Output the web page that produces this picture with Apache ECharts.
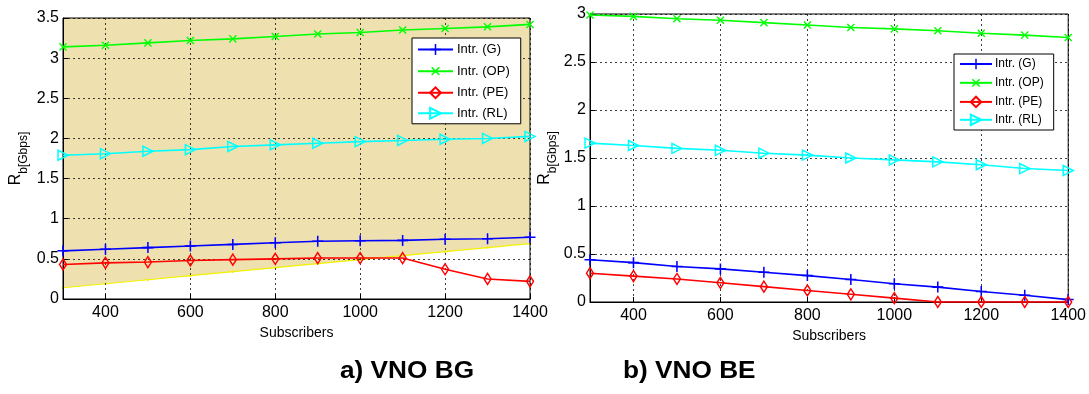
<!DOCTYPE html>
<html>
<head>
<meta charset="utf-8">
<script src="https://cdn.jsdelivr.net/npm/echarts@6/dist/echarts.min.js"></script>
<style>
  html, body { margin: 0; padding: 0; background: #fff; }
  #chart { width: 1089px; height: 394px; }
</style>
</head>
<body>
<div id="chart"></div>
<script>
// ---- data ----
const subscribers = ['300','400','500','600','700','800','900','1000','1100','1200','1300','1400'];
const seriesNames = ['Intr. (G)', 'Intr. (OP)', 'Intr. (PE)', 'Intr. (RL)'];

// a) VNO BG
const bgG  = [0.60, 0.62, 0.64, 0.66, 0.68, 0.70, 0.72, 0.725, 0.73, 0.745, 0.75, 0.77];
const bgOP = [3.14, 3.16, 3.19, 3.22, 3.24, 3.27, 3.30, 3.32, 3.35, 3.37, 3.39, 3.42];
const bgPE = [0.43, 0.45, 0.46, 0.48, 0.49, 0.50, 0.51, 0.51, 0.51, 0.37, 0.25, 0.22];
const bgRL = [1.79, 1.81, 1.84, 1.86, 1.90, 1.92, 1.94, 1.96, 1.975, 1.99, 2.00, 2.025];
const bgLimit = [0.14, 0.19, 0.24, 0.29, 0.34, 0.39, 0.44, 0.49, 0.54, 0.59, 0.64, 0.69];

// b) VNO BE
const beG  = [0.44, 0.41, 0.37, 0.345, 0.31, 0.275, 0.235, 0.19, 0.155, 0.11, 0.07, 0.025];
const beOP = [2.99, 2.975, 2.95, 2.935, 2.91, 2.885, 2.86, 2.845, 2.825, 2.80, 2.78, 2.755];
const bePE = [0.30, 0.27, 0.24, 0.20, 0.16, 0.12, 0.08, 0.04, 0, 0, 0, 0];
const beRL = [1.655, 1.63, 1.60, 1.58, 1.55, 1.53, 1.50, 1.48, 1.46, 1.43, 1.39, 1.37];

const captions = ['a) VNO BG', 'b) VNO BE'];
const xName = 'Subscribers';

// ---- styling ----
const FONT = 'Liberation Sans, Arial, sans-serif';
const colors = ['#0000ff', '#00ff00', '#ff0000', '#00ffff'];
const plusPath = 'path://M4.3,0H5.7V4.3H10V5.7H5.7V10H4.3V5.7H0V4.3H4.3Z';
const symbolDefs = [
  { symbol: plusPath, symbolSize: 11, symbolRotate: 0, hollow: false },
  { symbol: plusPath, symbolSize: 10, symbolRotate: 45, hollow: false },
  { symbol: 'diamond', symbolSize: [7, 11], symbolRotate: 0, hollow: true },
  { symbol: 'triangle', symbolSize: [10, 10], symbolRotate: -90, hollow: true }
];

const showEven = (idx, val) => Number(val) % 200 === 0;

function makeX(gridIndex, nameGap) {
  return {
    type: 'category', gridIndex, data: subscribers, boundaryGap: false,
    name: xName, nameLocation: 'middle', nameGap,
    nameTextStyle: { fontFamily: FONT, fontSize: 14, color: '#000' },
    axisLine: { show: true, lineStyle: { color: '#000', width: 1 } },
    axisTick: { show: true, inside: true, length: 5, interval: showEven, lineStyle: { color: '#000' } },
    axisLabel: { interval: showEven, fontFamily: FONT, fontSize: 16, color: '#000', margin: 6 },
    splitLine: { show: true, interval: showEven, lineStyle: { color: '#000', type: [2, 3], width: 1, opacity: 0.75 } }
  };
}
function makeY(gridIndex, max, nameGap) {
  return {
    type: 'value', gridIndex, min: 0, max, interval: 0.5,
    name: '{r|R}{s|b[Gbps]}', nameLocation: 'middle', nameGap,
    nameTextStyle: {
      fontFamily: FONT, color: '#000',
      rich: {
        r: { fontFamily: FONT, fontSize: 16, color: '#000', lineHeight: 22, verticalAlign: 'top' },
        s: { fontFamily: FONT, fontSize: 12, color: '#000', lineHeight: 22, verticalAlign: 'bottom', padding: [5, 0, 0, 0] }
      }
    },
    axisLine: { show: true, lineStyle: { color: '#000', width: 1 } },
    axisTick: { show: true, inside: true, length: 5, lineStyle: { color: '#000' } },
    axisLabel: { fontFamily: FONT, fontSize: 16, color: '#000', margin: 4 },
    splitLine: { show: true, lineStyle: { color: '#000', type: [2, 3], width: 1, opacity: 0.75 } }
  };
}
function makeSeries(i, data, axisIdx) {
  const d = symbolDefs[i];
  return {
    type: 'line', name: seriesNames[i], xAxisIndex: axisIdx, yAxisIndex: axisIdx,
    data, symbol: d.symbol, symbolSize: d.symbolSize, symbolRotate: d.symbolRotate,
    showAllSymbol: true, clip: false, z: 3,
    lineStyle: { color: colors[i], width: 1.6 },
    itemStyle: d.hollow
      ? { color: 'rgba(255,255,255,0)', borderColor: colors[i], borderWidth: 1.5 }
      : { color: colors[i] },
    emphasis: { disabled: true }
  };
}

const legendCommon = {
  orient: 'vertical', backgroundColor: '#fff', borderColor: '#000', borderWidth: 1,
  borderRadius: 0, data: seriesNames, selectedMode: false, align: 'left'
};

const option = {
  animation: false,
  backgroundColor: '#fff',
  grid: [
    { left: 63, top: 18, width: 467, height: 281, show: true, borderColor: '#000', borderWidth: 1, backgroundColor: 'transparent' },
    { left: 590, top: 14, width: 479, height: 288, show: true, borderColor: '#000', borderWidth: 1, backgroundColor: 'transparent' }
  ],
  xAxis: [makeX(0, 24), makeX(1, 22)],
  yAxis: [makeY(0, 3.5, 33), makeY(1, 3, 31)],
  legend: [
    Object.assign({}, legendCommon, {
      left: 412, top: 38, padding: [5, 11, 4, 5], itemGap: 7.5, itemWidth: 35, itemHeight: 13.5,
      textStyle: { fontFamily: FONT, fontSize: 13, color: '#000', padding: [0, 0, 0, -1] }
    }),
    Object.assign({}, legendCommon, {
      left: 954, top: 54, padding: [4, 10, 4, 5], itemGap: 5.5, itemWidth: 32, itemHeight: 13,
      textStyle: { fontFamily: FONT, fontSize: 12, color: '#000', padding: [0, 0, 0, -2] }
    })
  ],
  series: [
    {
      type: 'line', name: 'limit', xAxisIndex: 0, yAxisIndex: 0, data: bgLimit,
      symbol: 'circle', symbolSize: 2.5, z: -1,
      lineStyle: { color: '#f2f200', width: 1.2 }, itemStyle: { color: '#f2f200' },
      areaStyle: { origin: 'end', color: '#eee1af', opacity: 1 },
      emphasis: { disabled: true }, silent: true
    },
    makeSeries(0, bgG, 0), makeSeries(1, bgOP, 0), makeSeries(2, bgPE, 0), makeSeries(3, bgRL, 0),
    makeSeries(0, beG, 1), makeSeries(1, beOP, 1), makeSeries(2, bePE, 1), makeSeries(3, beRL, 1)
  ],
  graphic: [
    { type: 'text', x: 340, y: 360, scaleX: 1.14, style: { text: captions[0], font: 'bold 23px ' + FONT, fill: '#000' } },
    { type: 'text', x: 623, y: 360, scaleX: 1.14, style: { text: captions[1], font: 'bold 23px ' + FONT, fill: '#000' } }
  ]
};

const chart = echarts.init(document.getElementById('chart'), null, { renderer: 'canvas' });
chart.setOption(option);
</script>
</body>
</html>
